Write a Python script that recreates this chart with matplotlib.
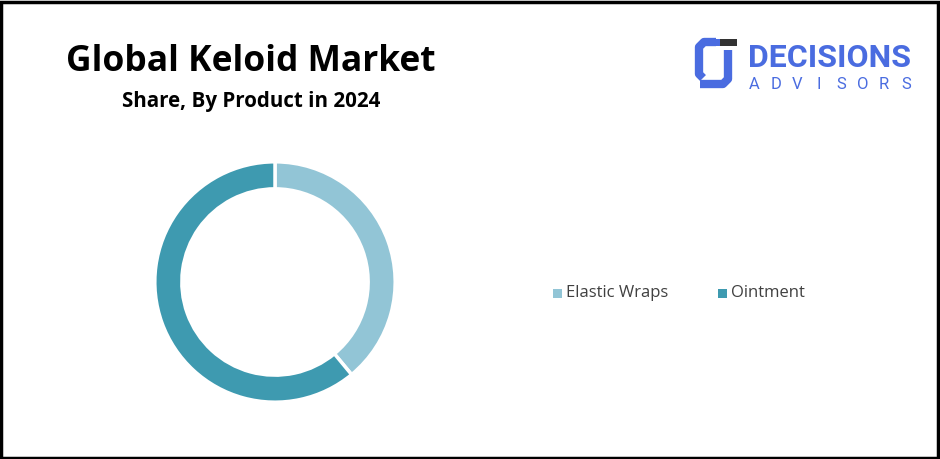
import matplotlib
matplotlib.use("Agg")
import matplotlib.pyplot as plt
from matplotlib.patches import Rectangle

products = ["Elastic Wraps", "Ointment"]
shares = [39, 61]
colors = ["#92C5D6", "#3E9AB0"]

W, H = 940, 459
fig = plt.figure(figsize=(W / 100, H / 100), dpi=100)
fig.patch.set_facecolor("white")

# black frame around the picture
fig.patches.append(Rectangle((0.001, 0.002), 0.997, 0.994, transform=fig.transFigure,
                             fill=False, edgecolor="black", lw=2.5))

# titles
fig.text(251 / W, 1 - 62 / H, "Global Keloid Market", ha="center", va="center",
         fontsize=25.5, fontweight="bold", family="Open Sans", color="black")
fig.text(251 / W, 1 - 101 / H, "Share, By Product in 2024", ha="center", va="center",
         fontsize=14.8, fontweight="bold", family="Open Sans", color="black")

# donut
ax = fig.add_axes([150 / W, 52 / H, 250 / W, 250 / H])
ax.pie(shares, colors=colors, startangle=90, counterclock=False,
       wedgeprops=dict(width=0.225, edgecolor="white", linewidth=2.5))
ax.set_xlim(-1.04, 1.04)
ax.set_ylim(-1.04, 1.04)
ax.set_aspect("equal")
ax.axis("off")

# legend
lx = [553, 718]
for x, name, c in zip(lx, products, colors):
    fig.patches.append(Rectangle((x / W, 1 - 298 / H), 9 / W, 9 / H, transform=fig.transFigure,
                                 facecolor=c, edgecolor="none"))
    fig.text((x + 13) / W, 1 - 293 / H, name, ha="left", va="center",
             fontsize=12, family="Open Sans", color="#404040")

# logo (pixel coordinates, y downward)
blue = "#4A6CE0"
lg = fig.add_axes([690 / W, 1 - 95 / H, 55 / W, 60 / H])
lg.set_xlim(690, 745)
lg.set_ylim(95, 35)
lg.axis("off")
lg.plot([716, 704, 699, 699, 703], [42, 42, 47, 74, 78], color=blue, lw=6,
        solid_capstyle="butt", solid_joinstyle="round")
lg.plot([728, 728, 723, 700], [50, 79, 84, 84], color=blue, lw=6,
        solid_capstyle="butt", solid_joinstyle="round")
lg.add_patch(Rectangle((719, 39), 18, 7, facecolor="#333333", edgecolor="none"))
lg.add_patch(Rectangle((713, 39), 7, 7, facecolor=blue, edgecolor="none"))
fig.text(748 / W, 1 - 58 / H, "DECISIONS", ha="left", va="center", fontsize=23,
         fontweight="bold", family="Roboto", color=blue)
for i, ch in enumerate("ADVISORS"):
    fig.text((754 + i * 21.7) / W, 1 - 85 / H, ch, ha="center", va="center",
             fontsize=12, family="Roboto", color=blue)

fig.savefig("out.png", dpi=100)
